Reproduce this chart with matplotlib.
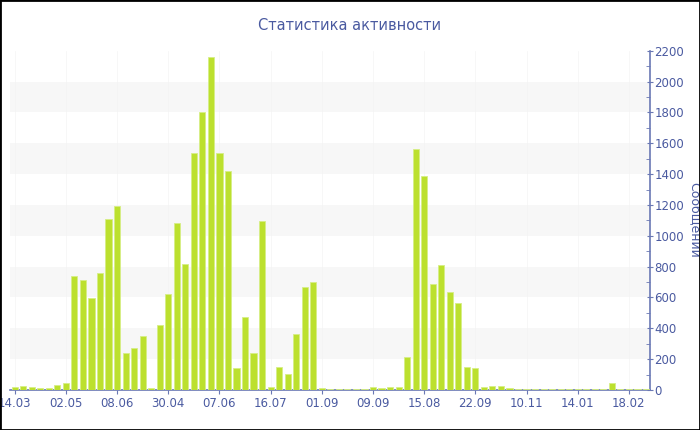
#!/usr/bin/env python3

import matplotlib
matplotlib.use('Agg')
import matplotlib.pyplot as plt
from matplotlib.patches import Rectangle
from matplotlib.ticker import MultipleLocator

# Messages per period
messages = [
    17, 24, 17, 15, 11, 32, 43, 741, 711, 599, 759, 1109, 1193,
    238, 270, 352, 11, 422, 623, 1083, 819, 1535, 1801, 2162, 1535, 1422,
    140, 471, 238, 1094, 22, 147, 102, 365, 670, 703, 11, 8,
    8, 8, 8, 8, 17, 11, 17, 17, 212, 1565, 1390, 685, 811,
    633, 562, 147, 145, 17, 24, 24, 13, 8, 8, 8, 8,
    8, 8, 8, 8, 8, 8, 8, 43, 8, 8, 8, 8,
]
tick_labels = ['14.03', '02.05', '08.06', '30.04', '07.06', '16.07', '01.09',
               '09.09', '15.08', '22.09', '10.11', '14.01', '18.02']
tick_step = 6

title = 'Статистика активности'
y_title = 'Сообщений'

text_color = '#4a5aa0'
axis_color = '#6a78b4'
bar_color = '#bce02e'

fig = plt.figure(figsize=(7, 4.3), dpi=100)
ax = fig.add_axes([0.0149, 0.093, 0.914, 0.789])

x = list(range(len(messages)))
ax.bar(x, messages, width=0.72, color=bar_color, edgecolor='#d6ee86',
       linewidth=0.6, zorder=3)

ax.set_xlim(-0.5, len(messages) - 0.5)
ax.set_ylim(0, 2200)

# alternating bands
for lo in range(200, 2200, 400):
    ax.axhspan(lo, lo + 200, color='#f7f7f7', zorder=0, lw=0)

ax.set_xticks(x[::tick_step])
ax.set_xticklabels(tick_labels)
ax.xaxis.grid(True, color='#f4f4f4', lw=0.5, zorder=1)

ax.yaxis.tick_right()
ax.yaxis.set_label_position('right')
ax.yaxis.set_major_locator(MultipleLocator(200))
ax.yaxis.set_minor_locator(MultipleLocator(100))
ax.set_ylabel(y_title, rotation=270, color=text_color, fontsize=9, labelpad=12)

for side in ['left', 'top']:
    ax.spines[side].set_visible(False)
for side in ['right', 'bottom']:
    ax.spines[side].set_color(axis_color)
    ax.spines[side].set_linewidth(1.2)

ax.tick_params(axis='x', colors=axis_color, labelcolor=text_color,
               labelsize=8.5, length=3, pad=2)
ax.tick_params(axis='y', which='major', colors=axis_color, labelcolor=text_color,
               labelsize=8.5, length=4, direction='inout', pad=1)
ax.tick_params(axis='y', which='minor', colors=axis_color, length=3,
               direction='in')

fig.text(0.5, 0.94, title, ha='center', va='center', color=text_color,
         fontsize=10.5)

# black frame round the picture
fig.patches.append(Rectangle((0, 0), 1, 1, transform=fig.transFigure,
                             fill=False, edgecolor='black', linewidth=2))

fig.savefig('out.png', dpi=100)
